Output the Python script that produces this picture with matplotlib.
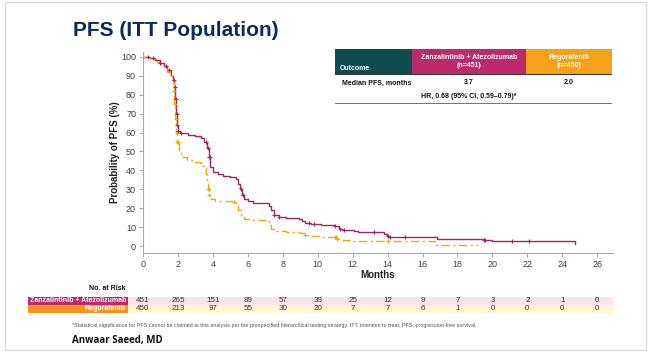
import numpy as np
import matplotlib
matplotlib.use("Agg")
from matplotlib import pyplot as plt
from matplotlib.patches import Rectangle
import matplotlib.transforms as mtransforms

plt.rcParams['font.family'] = ['Liberation Sans', 'DejaVu Sans']

# Kaplan-Meier step data (months, % PFS)
zan_t = [0, 0.4, 0.7, 1.0, 1.2, 1.4, 1.6, 1.7, 1.8, 1.85, 1.9, 1.95, 2.0, 2.1, 2.3,
         2.6, 3.0, 3.3, 3.5, 3.65, 3.75, 3.85, 4.0, 4.3, 4.6, 5.0, 5.35, 5.45, 5.55,
         5.65, 5.8, 6.0, 6.3, 7.0, 7.2, 7.35, 7.5, 7.8, 8.2, 8.9, 9.1, 9.3, 9.6, 10.2,
         11.0, 11.2, 11.4, 12.1, 12.3, 13.8, 13.95, 14.1, 15.5, 16.8, 19.5, 20.0, 24.7]
zan_s = [100, 99.5, 98.5, 97, 95, 93, 90, 88, 84, 78, 70, 64, 61, 60, 59.5,
         58.5, 58, 57, 55, 52, 47, 42, 39, 38, 37, 36.5, 35.5, 33, 30,
         27, 25, 24, 23, 22.5, 21, 19, 16.5, 15.5, 15, 14.5, 13, 12, 11.5, 11.2,
         10.5, 9, 8.5, 8, 7.5, 6.5, 5.5, 5, 4.5, 3.5, 3.2, 2.8, 0.8]
zan_cens = [0.3, 0.6, 1.0, 1.3, 1.5, 1.75, 1.82, 1.88, 1.93, 1.97, 2.03, 2.2, 3.6,
            3.7, 3.78, 3.82, 5.6, 5.7, 7.5, 7.8, 9.5, 9.8, 11.0, 11.3, 11.5, 13.2,
            14.0, 14.15, 15.0, 19.5, 19.6, 21.1, 22.1]

reg_t = [0, 0.4, 0.8, 1.0, 1.2, 1.4, 1.55, 1.7, 1.75, 1.8, 1.85, 1.9, 1.95, 2.05,
         2.2, 2.5, 2.9, 3.3, 3.5, 3.6, 3.65, 3.7, 3.8, 3.9, 4.1, 4.6, 5.1, 5.3, 5.45,
         5.6, 5.8, 6.2, 7.0, 7.2, 7.35, 7.6, 8.2, 9.0, 9.3, 9.6, 10.2, 11.0, 11.1,
         11.3, 12.0, 16.7, 19.2]
reg_s = [100, 99, 97.5, 96, 94, 92, 90, 87, 82, 75, 67, 60, 55, 50,
         47, 45.5, 44.5, 42.5, 41, 38, 34, 30, 27, 25, 24, 23.8, 23.5, 22, 19,
         16.5, 14.5, 14, 13.5, 11, 9, 8, 7.5, 7, 6, 5.5, 5, 4.5, 3.5,
         3, 2.6, 0.5, 0.5]
reg_cens = [0.0, 1.78, 1.83, 1.88, 1.92, 1.97, 2.02, 3.7, 3.75, 3.8, 5.2, 9.3,
            11.0, 11.05, 11.1, 14.0]

risk_months = list(range(0, 28, 2))
risk_zan = [451, 265, 151, 89, 57, 39, 25, 12, 9, 7, 3, 2, 1, 0]
risk_reg = [450, 213, 97, 55, 30, 20, 7, 7, 6, 1, 0, 0, 0, 0]

arm_names = ["Zanzalintinib + Atezolizumab", "Regorafenib"]
arm_n = ["(n=451)", "(n=450)"]
median_pfs = ["3.7", "2.0"]
hr_text = "HR, 0.68 (95% CI, 0.59\u20130.79)*"

C_ZAN = "#a3265f"
C_REG = "#f2a900"
C_TEAL = "#0e4c4d"
C_MAG = "#bc2a6c"
C_ORG = "#f7a11a"

W, H = 650, 357
fig = plt.figure(figsize=(6.5, 3.57), dpi=100)


def fx(px):
    return px / W


def fy(py):
    return 1 - py / H


# slide frame
fig.patches.append(Rectangle((fx(5), fy(350)), fx(641), 348 / H, transform=fig.transFigure,
                             fill=False, edgecolor="#dcdcdc", linewidth=1))

fig.text(fx(73), fy(30), "PFS (ITT Population)", fontsize=15, fontweight="bold",
         color="#0c2a5c", va="center", ha="left")

# main KM axes
ax = fig.add_axes([fx(143), fy(253), fx(613 - 143), (253 - 52) / H])


def step_at(t, s, x):
    i = np.searchsorted(t, x, side="right") - 1
    return np.asarray(s)[i]


ax.plot(zan_t, zan_s, drawstyle="steps-post", color=C_ZAN, linewidth=1.0)
ax.plot(reg_t, reg_s, drawstyle="steps-post", color=C_REG, linewidth=1.0,
        dashes=(6, 2.5, 1.5, 2.5))
ax.plot(reg_cens, step_at(reg_t, reg_s, reg_cens), "+", color=C_REG, markersize=3,
        markeredgewidth=0.8)
ax.plot(zan_cens, step_at(zan_t, zan_s, zan_cens), "+", color=C_ZAN, markersize=3,
        markeredgewidth=0.8)

ax.set_xlim(0, 26.9)
ax.set_ylim(-3.7, 102.6)
ax.set_xticks(risk_months)
ax.set_yticks(range(0, 101, 10))
for sp in ["top", "right"]:
    ax.spines[sp].set_visible(False)
for sp in ["left", "bottom"]:
    ax.spines[sp].set_color("#a8a8a8")
    ax.spines[sp].set_linewidth(0.8)
ax.tick_params(direction="out", length=3, width=0.7, color="#a8a8a8",
               labelsize=6.5, labelcolor="#404040", pad=2)
ax.set_xlabel("Months", fontsize=7, fontweight="bold", color="#222222", labelpad=1)
ax.set_ylabel("Probability of PFS (%)", fontsize=7, fontweight="bold", color="#222222",
              labelpad=1)

# header table
y0, y1 = 49, 74
cols = [(335, 412, C_TEAL), (412, 526, C_MAG), (526, 612, C_ORG)]
for xa, xb, c in cols:
    fig.patches.append(Rectangle((fx(xa), fy(y1)), fx(xb - xa), (y1 - y0) / H,
                                 transform=fig.transFigure, color=c, linewidth=0))
fig.patches.append(Rectangle((fx(335), fy(75)), fx(277), 1.2 / H, transform=fig.transFigure,
                             color="#333333", linewidth=0))
fig.text(fx(340), fy(68), "Outcome", fontsize=5, fontweight="bold", color="white",
         va="center", ha="left")
for (xa, xb, c), name, n in zip(cols[1:], arm_names, arm_n):
    fig.text(fx((xa + xb) / 2), fy(61.5), name + "\n" + n, fontsize=5, fontweight="bold",
             color="white", va="center", ha="center", linespacing=1.3)
fig.text(fx(342), fy(83), "Median PFS, months", fontsize=5, fontweight="bold",
         color="#111111", va="center", ha="left")
for (xa, xb, c), m in zip(cols[1:], median_pfs):
    fig.text(fx((xa + xb) / 2), fy(83), m, fontsize=5, fontweight="bold",
             color="#111111", va="center", ha="center")
fig.text(fx(469), fy(96.5), hr_text, fontsize=5, fontweight="bold", color="#111111",
         va="center", ha="center")
fig.patches.append(Rectangle((fx(335), fy(103.5)), fx(277), 0.9 / H,
                             transform=fig.transFigure, color="#777777", linewidth=0))

# number at risk table
fig.text(fx(126), fy(288), "No. at Risk", fontsize=5, fontweight="bold", color="#111111",
         va="center", ha="right")
rows = [(296.5, 304.5, C_MAG, "#fde3ec", arm_names[0], risk_zan),
        (304.5, 313, "#f7941d", "#fff6d2", arm_names[1], risk_reg)]
blend = mtransforms.blended_transform_factory(ax.transData, fig.transFigure)
for ya, yb, cl, cb, name, vals in rows:
    fig.patches.append(Rectangle((fx(28), fy(yb)), fx(100), (yb - ya) / H,
                                 transform=fig.transFigure, color=cl, linewidth=0))
    fig.patches.append(Rectangle((fx(128), fy(yb)), fx(485), (yb - ya) / H,
                                 transform=fig.transFigure, color=cb, linewidth=0))
    fig.text(fx(126), fy((ya + yb) / 2), name, fontsize=5, fontweight="bold",
             color="white", va="center", ha="right")
    for m, v in zip(risk_months, vals):
        fig.text(m, fy((ya + yb) / 2), str(v), fontsize=5.8, color="#333333",
                 va="center", ha="center", transform=blend)

fig.text(fx(72), fy(325), "*Statistical significance for PFS cannot be claimed at this analysis "
         "per the prespecified hierarchical testing strategy. ITT, intention to treat; PFS, "
         "progression-free survival.", fontsize=3.9, color="#555555", va="center", ha="left")
fig.text(fx(72), fy(340), "Anwaar Saeed, MD", fontsize=7, fontweight="bold",
         color="#111111", va="center", ha="left", family=["Open Sans", "DejaVu Sans"])

fig.savefig("out.png", dpi=100)
